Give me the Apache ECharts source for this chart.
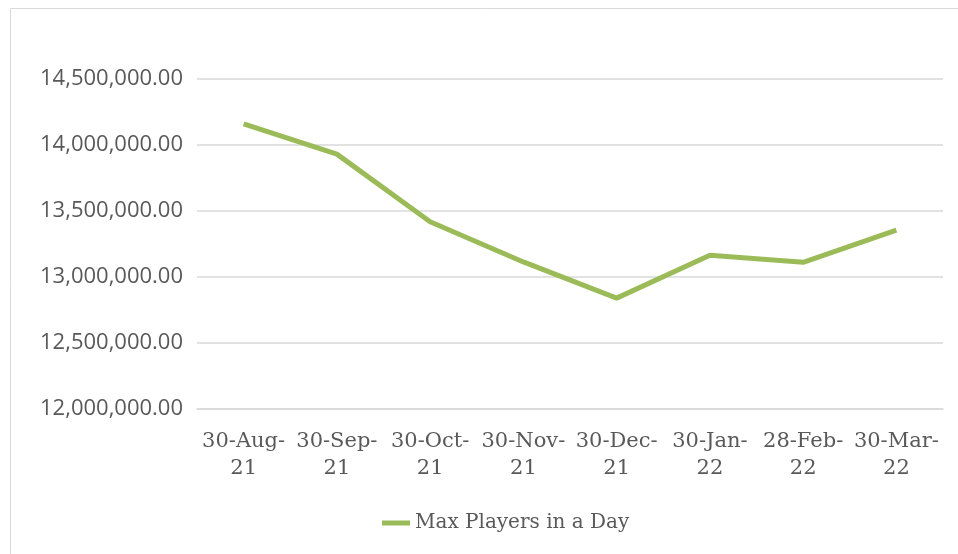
<!DOCTYPE html>
<html><head><meta charset="utf-8">
<script src="https://cdn.jsdelivr.net/npm/echarts@6/dist/echarts.min.js"></script>
<style>html,body{margin:0;padding:0;background:#fff}#c{width:958px;height:554px}</style>
</head><body><div id="c"></div>
<script>
const categories = ['30-Aug-21','30-Sep-21','30-Oct-21','30-Nov-21','30-Dec-21','30-Jan-22','28-Feb-22','30-Mar-22'];
const maxPlayers = [14160000,13931000,13419000,13114000,12840000,13165000,13111000,13355000];
const seriesName = 'Max Players in a Day';

const chart = echarts.init(document.getElementById('c'), null, {renderer:'canvas'});
chart.setOption({
  animation:false,
  backgroundColor:'#fff',
  graphic:[{type:'rect',shape:{x:10.5,y:8.5,width:990,height:600},style:{fill:'none',stroke:'#d9d9d9',lineWidth:1}}],
  grid:{left:197,right:15,top:79,bottom:145},
  legend:{bottom:16,left:377,itemWidth:28,itemHeight:5,icon:'rect',itemGap:10,
    textStyle:{fontFamily:'DejaVu Serif',fontSize:20,color:'#595959'},
    data:[seriesName]},
  xAxis:{type:'category',data:categories,boundaryGap:true,
    axisLine:{lineStyle:{color:'#d9d9d9',width:1.5}},axisTick:{show:false},
    axisLabel:{color:'#595959',fontFamily:'DejaVu Serif',fontSize:21,lineHeight:27,margin:19,interval:0,
      formatter:v=>v.replace(/-(\d+)$/,'-\n$1')}},
  yAxis:{type:'value',min:12000000,max:14500000,interval:500000,
    axisLine:{show:false},axisTick:{show:false},
    splitLine:{lineStyle:{color:'#d9d9d9',width:1.5}},
    axisLabel:{color:'#595959',fontFamily:'Open Sans',fontSize:22,margin:14,
      formatter:v=>v.toLocaleString('en-US',{minimumFractionDigits:2,maximumFractionDigits:2})}},
  series:[{name:seriesName,type:'line',data:maxPlayers,showSymbol:false,symbol:'none',
    lineStyle:{color:'#9bbb59',width:5},itemStyle:{color:'#9bbb59'}}]
});
</script></body></html>
